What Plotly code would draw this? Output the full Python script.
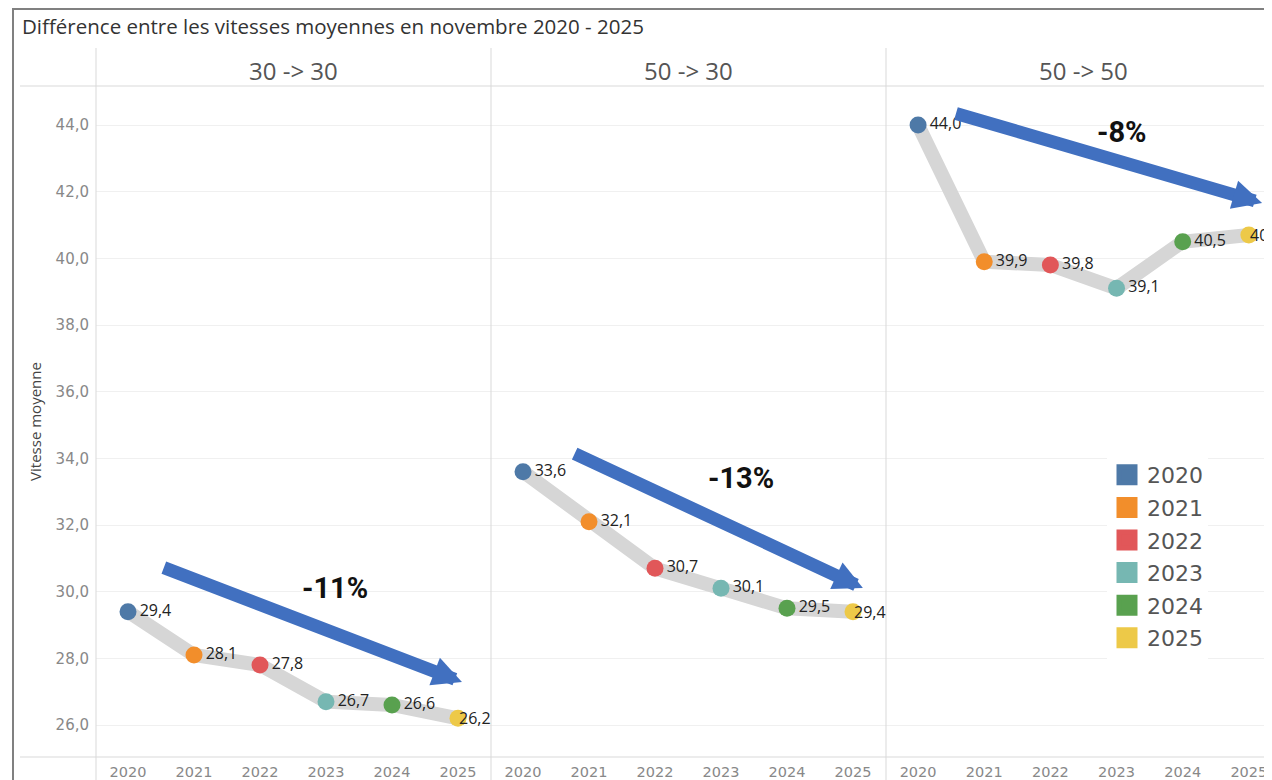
import plotly.graph_objects as go

# ---------------- data ----------------
panels = ["30 -> 30", "50 -> 30", "50 -> 50"]
years = [2020, 2021, 2022, 2023, 2024, 2025]
year_labels = ["2020", "2021", "2022", "2023", "2024", "2025"]
v_30_30 = [29.4, 28.1, 27.8, 26.7, 26.6, 26.2]
v_50_30 = [33.6, 32.1, 30.7, 30.1, 29.5, 29.4]
v_50_50 = [44.0, 39.9, 39.8, 39.1, 40.5, 40.7]
pct_labels = ["-11%", "-13%", "-8%"]
y_ticks = [26, 28, 30, 32, 34, 36, 38, 40, 42, 44]

series = [v_30_30, v_50_30, v_50_50]
year_colors = ["#4e79a7", "#f28e2b", "#e15759", "#76b7b2", "#59a14f", "#edc948"]

# ---------------- layout geometry ----------------
# page body has an 8px margin; work in screen pixels and convert
OFF = 8
W, H = 1272 - OFF, 780 - OFF


def S(p):
    return p - OFF


ML, MT = S(96), S(86)
MR = 0
MB = H - S(757)
PW = W - ML - MR
PH = H - MT - MB
panel_px = [(96, 491), (491, 886), (886, 1272)]  # screen px
domains = [((S(a) - ML) / PW, (S(b) - ML) / PW) for a, b in panel_px]
x_ranges = [[2019.515, 2025.5], [2019.515, 2025.5], [2019.515, 2025.35]]
y_range = [25.04, 45.17]


def px_x(p):
    return (S(p) - ML) / PW


def px_y(p):
    return (H - MB - S(p)) / PH


# arrow (tail -> tip) and percentage label positions, in data units per panel
arrows = [
    ((2020.52, 30.74), (2025.06, 27.29)),
    ((2020.76, 34.16), (2025.15, 30.11)),
    ((2020.55, 44.36), (2025.20, 41.66)),
]
pct_pos = [(2023.14, 30.11), (2023.30, 33.41), (2023.08, 43.79)]


def fmt(v):
    return f"{v:.1f}".replace(".", ",")


fig = go.Figure()
label_annotations = []

for i, vals in enumerate(series):
    sfx = "" if i == 0 else str(i + 1)
    xa, ya = f"x{sfx}", f"y{sfx}"
    fig.add_trace(go.Scatter(
        x=years, y=vals, mode="lines", xaxis=xa, yaxis=ya,
        line=dict(color="#d6d6d6", width=14), hoverinfo="skip", showlegend=False,
    ))
    texts = [fmt(v) for v in vals]
    # last label of each pane is pushed back inside the pane (as Tableau does)
    texts[-1] = ""
    label_annotations.append(dict(
        text=fmt(vals[-1]), x=years[-1], y=vals[-1], xref=xa, yref=ya,
        xanchor="left", yanchor="middle", xshift=-1, showarrow=False,
        font=dict(family="Open Sans", size=16, color="#222"),
    ))
    fig.add_trace(go.Scatter(
        x=years, y=vals, mode="markers+text", xaxis=xa, yaxis=ya,
        marker=dict(color=year_colors, size=17, line=dict(width=0)),
        text=texts, textposition="middle right",
        textfont=dict(family="Open Sans", size=16, color="#222"),
        cliponaxis=False, showlegend=False,
    ))

# legend entries
for yl, c in zip(year_labels, year_colors):
    fig.add_trace(go.Scatter(
        x=[None], y=[None], mode="markers", name=yl, xaxis="x3", yaxis="y3",
        marker=dict(color=c, size=16, symbol="square", line=dict(color=c, width=5)),
        legendgroup=yl,
    ))

layout = dict(
    width=W, height=H,
    margin=dict(l=ML, r=MR, t=MT, b=MB, pad=0),
    paper_bgcolor="white", plot_bgcolor="white",
    separators=", ",
    font=dict(family="Open Sans", color="#555"),
    title=dict(
        text="Différence entre les vitesses moyennes en novembre 2020 - 2025",
        x=S(22) / W, xanchor="left", y=1 - S(27) / H, yanchor="middle",
        font=dict(family="Open Sans", size=20.5, color="#333"),
    ),
    legend=dict(
        x=px_x(1107), y=px_y(454), xanchor="left", yanchor="top",
        bgcolor="white", font=dict(family="DejaVu Sans", size=22, color="#555"),
        itemsizing="trace", tracegroupgap=1, itemwidth=30,
    ),
    showlegend=True,
)

for i in range(3):
    sfx = "" if i == 0 else str(i + 1)
    layout[f"xaxis{sfx}"] = dict(
        domain=list(domains[i]), range=x_ranges[i], anchor=f"y{sfx}",
        tickvals=years, ticktext=year_labels, showgrid=False, zeroline=False,
        showline=False, ticks="",
        tickfont=dict(family="DejaVu Sans", size=14.5, color="#888"),
        ticklabelstandoff=4,
        fixedrange=True,
    )
    layout[f"yaxis{sfx}"] = dict(
        domain=[0, 1], range=y_range, anchor=f"x{sfx}",
        tickvals=y_ticks, tickformat=".1f", showgrid=True, gridcolor="#f0f0f0",
        gridwidth=1, zeroline=False, showline=False, ticks="",
        showticklabels=(i == 0),
        tickfont=dict(family="DejaVu Sans", size=15, color="#888"),
        ticklabelstandoff=6,
    )
    if i > 0:
        layout[f"yaxis{sfx}"]["matches"] = "y"

layout["yaxis"]["automargin"] = True
layout["yaxis"]["title"] = dict(
    text="Vitesse moyenne", standoff=10,
    font=dict(family="Open Sans", size=15, color="#444"),
)

fig.update_layout(**layout)

sep = "#d9d9d9"
shapes = [
    # outer frame
    dict(type="rect", xref="paper", yref="paper", x0=px_x(13), x1=px_x(1290),
         y0=px_y(800), y1=px_y(9), line=dict(color="#808080", width=2)),
    # header bottom line
    dict(type="line", xref="paper", yref="paper", x0=px_x(20), x1=px_x(1290),
         y0=1, y1=1, line=dict(color=sep, width=1)),
    # bottom axis line
    dict(type="line", xref="paper", yref="paper", x0=px_x(20), x1=px_x(1290),
         y0=0, y1=0, line=dict(color=sep, width=1)),
]
for a, b in panel_px:
    shapes.append(dict(type="line", xref="paper", yref="paper", x0=px_x(a), x1=px_x(a),
                       y0=px_y(800), y1=px_y(48), line=dict(color=sep, width=1)))
fig.update_layout(shapes=shapes)

annotations = []
for i, name in enumerate(panels):
    a, b = panel_px[i]
    annotations.append(dict(
        text=name, xref="paper", yref="paper", x=px_x(a + 197.5),
        y=px_y(70), xanchor="center", yanchor="middle", showarrow=False,
        font=dict(family="Open Sans", size=24, color="#555"),
    ))
for i, ((tx, ty), (hx, hy)) in enumerate(arrows):
    sfx = "" if i == 0 else str(i + 1)
    annotations.append(dict(
        text="", x=hx, y=hy, ax=tx, ay=ty, xref=f"x{sfx}", yref=f"y{sfx}",
        axref=f"x{sfx}", ayref=f"y{sfx}", showarrow=True, arrowhead=2,
        arrowsize=0.45, arrowwidth=13, arrowcolor="#4170c0", standoff=0,
    ))
    px_, py_ = pct_pos[i]
    annotations.append(dict(
        text=f"<b>{pct_labels[i]}</b>", x=px_, y=py_, xref=f"x{sfx}", yref=f"y{sfx}",
        showarrow=False, xanchor="center", yanchor="middle",
        font=dict(family="Roboto", size=29, color="#111"),
    ))
annotations.extend(label_annotations)
fig.update_layout(annotations=annotations)

fig.write_html("out.html")
